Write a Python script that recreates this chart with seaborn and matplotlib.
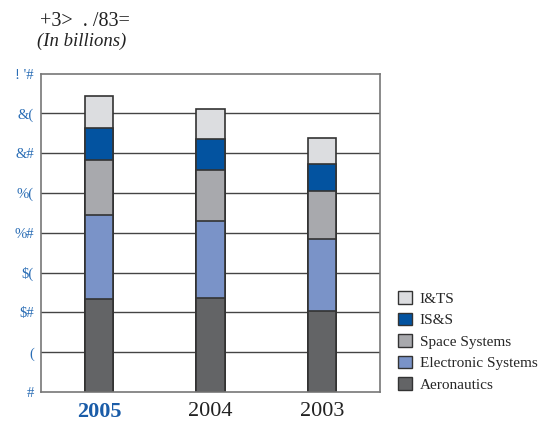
import pandas as pd
import matplotlib.pyplot as plt
import seaborn as sns
from matplotlib.patches import Patch

# data (in billions)
years = ['2005', '2004', '2003']
aeronautics = [11.7, 11.8, 10.2]
electronic = [10.6, 9.7, 9.0]
space = [6.8, 6.4, 6.1]
iss = [4.1, 3.9, 3.4]
its = [4.0, 3.8, 3.2]

segments = ['Aeronautics', 'Electronic Systems', 'Space Systems', 'IS&S', 'I&TS']
colors = ['#636466', '#7a93c8', '#a8a9ad', '#0353a0', '#dcdde0']

ytick_vals = [0, 5, 10, 15, 20, 25, 30, 35, 40]
ytick_labels = ['#', '(', '$#', '$(', '%#', '%(', '&#', '&(', "! '#"]

df = pd.DataFrame({'year': years, 'Aeronautics': aeronautics,
                   'Electronic Systems': electronic, 'Space Systems': space,
                   'IS&S': iss, 'I&TS': its})

# cumulative totals so each bar can be drawn over the one above it
cum = df[segments].cumsum(axis=1)
cum['year'] = df['year']

sns.set_style('white')
plt.rcParams['font.family'] = ['Liberation Serif', 'DejaVu Serif']

fig = plt.figure(figsize=(5.43, 4.22), dpi=100)
ax = fig.add_axes([0.0755, 0.0711, 0.6245, 0.7543])

for axis_y in ytick_vals[1:-1]:
    ax.axhline(axis_y, color='#444444', lw=1.0, zorder=0)

# draw from the tallest (total) down to the bottom segment
for seg, col in zip(reversed(segments), reversed(colors)):
    sns.barplot(data=cum, x='year', y=seg, order=years, color=col,
                width=0.255, edgecolor='#333333', linewidth=1.2,
                saturation=1, ax=ax, zorder=2)

ax.set_xlim(-0.523, 2.523)
ax.set_ylim(0, 40)
ax.set_xlabel('')
ax.set_ylabel('')
ax.set_yticks(ytick_vals)
ax.set_yticklabels(ytick_labels, fontsize=10.5, color='#2a6db5')
ax.set_xticks([0, 1, 2])
ax.set_xticklabels(years, fontsize=16)
ax.tick_params(axis='both', length=0)
ax.tick_params(axis='y', pad=5)
ax.tick_params(axis='x', pad=7)
xt = ax.get_xticklabels()
xt[0].set_color('#1a5ca8')
xt[0].set_fontweight('bold')
for lab in xt[1:]:
    lab.set_color('#222222')

for sp in ax.spines.values():
    sp.set_visible(True)
    sp.set_color('#777777')
    sp.set_linewidth(1.2)

fig.text(0.074, 0.95, '+3>  . /83=', fontsize=14.5, color='#222222',
         ha='left', va='center')
fig.text(0.068, 0.903, '(In billions)', fontsize=13.5, style='italic',
         color='#222222', ha='left', va='center')

handles = [Patch(facecolor=c, edgecolor='#333333', label=s)
           for s, c in zip(reversed(segments), reversed(colors))]
fig.legend(handles=handles, loc='lower left',
           bbox_to_anchor=(0.722, 0.057), frameon=False, fontsize=11,
           handlelength=0.9, handleheight=0.9, handletextpad=0.5,
           labelspacing=0.45, borderaxespad=0)

fig.savefig('out.png', dpi=100)
